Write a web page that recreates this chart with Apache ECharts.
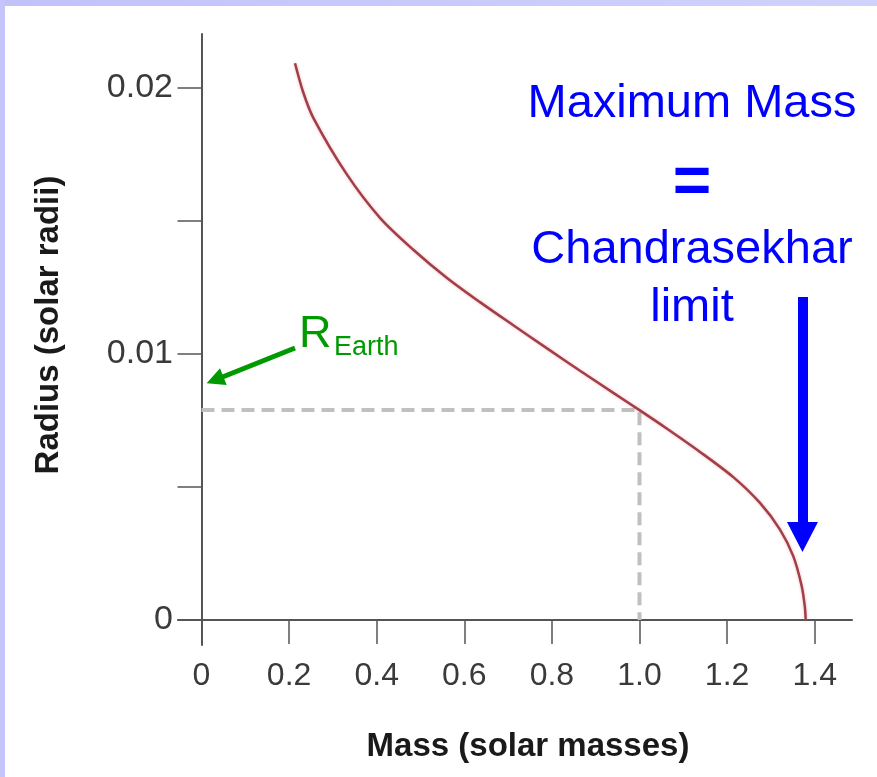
<!DOCTYPE html>
<html><head><meta charset="utf-8">
<script src="https://cdn.jsdelivr.net/npm/echarts@6/dist/echarts.min.js"></script>
<style>
html,body{margin:0;padding:0;background:#fff;overflow:hidden;}
#topband{position:absolute;left:0;top:0;width:877px;height:6px;background:linear-gradient(90deg,#c2c2fb,#d0d2fc);}
#leftband{position:absolute;left:0;top:0;width:5px;height:777px;background:#c5c5fb;}
#chart{position:absolute;left:0;top:0;width:877px;height:777px;}
</style></head><body>
<div id="topband"></div><div id="leftband"></div>
<div id="chart"></div>
<script>
// Mass–radius relation of white dwarfs
const massValues   = [0.2135, 0.232, 0.2553, 0.3315, 0.4075, 0.4836, 0.5598, 0.6358, 0.7119, 0.7881, 0.8642, 0.9402, 1.0, 1.0621, 1.1381, 1.2142, 1.2751, 1.3208, 1.3511, 1.3703, 1.3775, 1.3795];
const radiusValues = [0.02093, 0.01985, 0.01888, 0.01676, 0.01512, 0.01392, 0.01287, 0.01195, 0.01108, 0.01022, 0.00937, 0.00854, 0.00789, 0.0072, 0.00632, 0.00537, 0.0044, 0.0034, 0.0024, 0.00128, 0.0005, 0];

// dashed guide: one solar mass -> Earth-size radius
const guideMass   = [0, 1.0, 1.0];
const guideRadius = [0.00789, 0.00789, 0];

// axis ticks and labels
const xTicks = [0, 0.2, 0.4, 0.6, 0.8, 1.0, 1.2, 1.4];
const xTickLabels = ['0', '0.2', '0.4', '0.6', '0.8', '1.0', '1.2', '1.4'];
const yTicks = [0, 0.005, 0.01, 0.015, 0.02];
const yLabelValues = [0, 0.01, 0.02];
const yTickLabels = ['0', '0.01', '0.02'];

// annotation arrows (data coordinates: start, head)
const earthArrow = [[0.2135, 0.010226], [0.0308, 0.009023]];
const limitArrow = [[1.3721, 0.01214], [1.3721, 0.00312]];

const xMin = -0.05365, xMax = 1.4852;
const yMin = -0.00094, yMax = 0.02203;

function lbl(v, vals, labels) {
  for (let i = 0; i < vals.length; i++) if (Math.abs(vals[i] - v) < 1e-9) return labels[i];
  return '';
}

const FONT = '"Liberation Sans", Arial, Helvetica, sans-serif';
const chart = echarts.init(document.getElementById('chart'), null, {renderer: 'canvas'});
chart.setOption({
  backgroundColor: 'transparent',
  animation: false,
  grid: {left: 178, right: 25, top: 34, bottom: 132, containLabel: false, outerBoundsMode: 'none'},
  xAxis: {
    type: 'value', min: xMin, max: xMax,
    axisLine: {onZero: true, lineStyle: {color: '#555', width: 2}},
    axisTick: {show: true, customValues: xTicks, length: 24, lineStyle: {color: '#555', width: 1.5}},
    axisLabel: {customValues: xTicks, formatter: v => lbl(v, xTicks, xTickLabels), margin: 15,
      fontSize: 32, color: '#3a3a3a', fontFamily: FONT},
    splitLine: {show: false},
    name: 'Mass (solar masses)', nameLocation: 'middle', nameGap: 85, nameMoveOverlap: false,
    nameTextStyle: {fontSize: 33, fontWeight: 'bold', color: '#1a1a1a', fontFamily: FONT, padding: [0, 0, 0, 26]}
  },
  yAxis: {
    type: 'value', min: yMin, max: yMax,
    axisLine: {onZero: true, lineStyle: {color: '#555', width: 2}},
    axisTick: {show: true, customValues: yTicks, length: 24, lineStyle: {color: '#555', width: 1.5}},
    axisLabel: {customValues: yLabelValues, formatter: v => lbl(v, yLabelValues, yTickLabels), margin: 5,
      fontSize: 34, color: '#3a3a3a', fontFamily: FONT},
    splitLine: {show: false},
    name: 'Radius (solar radii)', nameLocation: 'middle', nameGap: 113, nameMoveOverlap: false,
    nameTextStyle: {fontSize: 33, fontWeight: 'bold', color: '#1a1a1a', fontFamily: FONT, padding: [0, 0, 0, 29]}
  },
  series: [
    {
      name: 'guide', type: 'line', symbol: 'none', z: 2,
      data: guideMass.map((m, i) => [m, guideRadius[i]]),
      lineStyle: {color: '#c0c0c0', width: 4, type: [13, 7]},
      markLine: {
        silent: true, symbol: ['none', 'triangle'], label: {show: false},
        lineStyle: {color: '#009a00', width: 5, type: 'solid'},
        itemStyle: {color: '#009a00'},
        emphasis: {disabled: true},
        data: [[{coord: earthArrow[0]}, {coord: earthArrow[1], symbol: 'triangle', symbolSize: [18, 18]}]]
      }
    },
    {
      name: 'curve', type: 'line', symbol: 'none', smooth: 0.3, z: 3,
      data: massValues.map((m, i) => [m, radiusValues[i]]),
      lineStyle: {color: '#a03f48', width: 2.5, shadowColor: 'rgba(230,90,100,0.45)', shadowBlur: 3},
      markLine: {
        silent: true, symbol: ['none', 'triangle'], label: {show: false},
        lineStyle: {color: '#0000ff', width: 10, type: 'solid'},
        itemStyle: {color: '#0000ff'},
        emphasis: {disabled: true},
        data: [[{coord: limitArrow[0]}, {coord: limitArrow[1], symbol: 'triangle', symbolSize: [31, 30]}]]
      }
    }
  ],
  graphic: [
    {type: 'text', x: 692, y: 104, style: {text: 'Maximum Mass', fill: '#0000ff', font: '47px ' + FONT, align: 'center', verticalAlign: 'middle'}},
    {type: 'text', x: 692, y: 185, style: {text: '=', fill: '#0000ff', font: 'bold 66px ' + FONT, align: 'center', verticalAlign: 'middle'}},
    {type: 'text', x: 692, y: 250, style: {text: 'Chandrasekhar', fill: '#0000ff', font: '47px ' + FONT, align: 'center', verticalAlign: 'middle'}},
    {type: 'text', x: 692, y: 308, style: {text: 'limit', fill: '#0000ff', font: '47px ' + FONT, align: 'center', verticalAlign: 'middle'}},
    {type: 'text', x: 299, y: 335, style: {text: 'R', fill: '#009a00', font: '45px ' + FONT, align: 'left', verticalAlign: 'middle'}},
    {type: 'text', x: 334, y: 348, style: {text: 'Earth', fill: '#009a00', font: '27px ' + FONT, align: 'left', verticalAlign: 'middle'}}
  ]
});
</script>
</body></html>
